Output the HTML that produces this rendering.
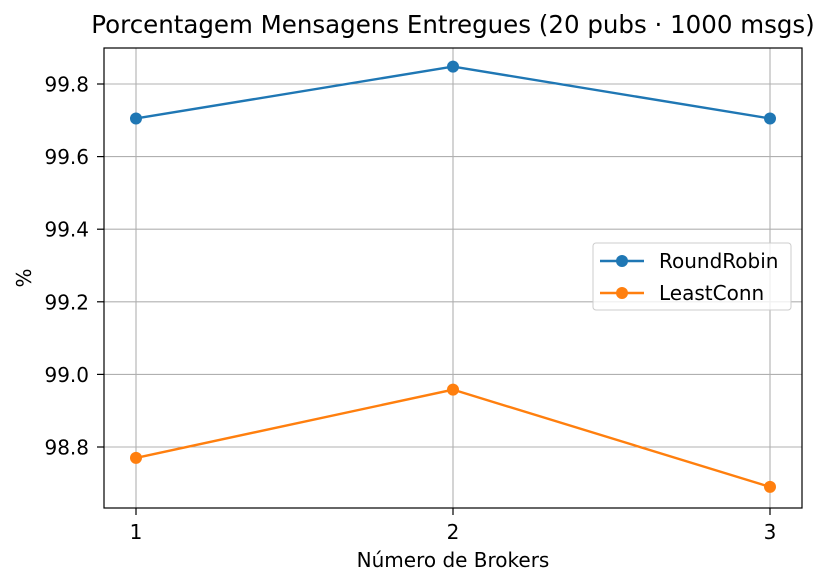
<!DOCTYPE html>
<html><head><meta charset="utf-8"><style>
html,body{margin:0;padding:0;background:#fff;}
svg{display:block;font-family:"DejaVu Sans","Liberation Sans",sans-serif;}
</style></head><body>
<svg id="chart" width="838" height="586" viewBox="0 0 838 586" xmlns="http://www.w3.org/2000/svg"></svg>
<script>
const categories = [1, 2, 3];
const roundRobin = [99.705, 99.848, 99.705];
const leastConn = [98.770, 98.958, 98.690];
const yTicks = [98.8, 99.0, 99.2, 99.4, 99.6, 99.8];
const yTickLabels = ["98.8", "99.0", "99.2", "99.4", "99.6", "99.8"];
const xTickLabels = ["1", "2", "3"];

const L = 104, R = 802, T = 48, B = 508;
function xs(v){ return 136 + (v - 1) * 317; }
function ys(v){ return 84 + (99.8 - v) * 363; }
const NS = "http://www.w3.org/2000/svg";
const svg = document.getElementById('chart');
function el(tag, attrs, parent){
  const e = document.createElementNS(NS, tag);
  for (const k in attrs) e.setAttribute(k, attrs[k]);
  (parent || svg).appendChild(e);
  return e;
}
const grid = el('g', {});


yTicks.forEach((v, i) => {
  const y = ys(v);
  const g = el('line', {x1: L, x2: R, y1: y, y2: y, stroke: '#b0b0b0', 'stroke-width': 1.1}, grid);
  
  
  const tk = el('line', {x1: L - 7, x2: L, y1: y, y2: y, stroke: '#000', 'stroke-width': 1.2});
  
  
  const t = el('text', {x: 89, y: y + 7.5, 'text-anchor': 'end', 'font-size': 20, fill: '#000'});
  t.textContent = yTickLabels[i];
  
  
});
categories.forEach((c, i) => {
  const x = xs(c);
  const g = el('line', {x1: x, x2: x, y1: T, y2: B, stroke: '#b0b0b0', 'stroke-width': 1.1}, grid);
  
  
  const tk = el('line', {x1: x, x2: x, y1: B, y2: B + 7, stroke: '#000', 'stroke-width': 1.2});
  
  
  const t = el('text', {x: x, y: 539, 'text-anchor': 'middle', 'font-size': 20, fill: '#000'});
  t.textContent = xTickLabels[i];
  
  
});
function series(vals, color, name){
  const g = el('g', {});
  
  
  const pts = vals.map((v, i) => xs(categories[i]) + ',' + ys(v)).join(' ');
  const pl = el('polyline', {points: pts, fill: 'none', stroke: color, 'stroke-width': 2.4}, g);
  
  
  vals.forEach((v, i) => {
    const c = el('circle', {cx: xs(categories[i]), cy: ys(v), r: 6, fill: color}, g);
    
    
  });
}
series(roundRobin, '#1f77b4', 'roundrobin-series');
series(leastConn, '#ff7f0e', 'leastconn-series');
const fr = el('rect', {x: L, y: T, width: R - L, height: B - T, fill: 'none', stroke: '#000', 'stroke-width': 1.2});


const title = el('text', {x: 453, y: 33, 'text-anchor': 'middle', 'font-size': 24.5, fill: '#000'});
title.textContent = 'Porcentagem Mensagens Entregues (20 pubs · 1000 msgs)';


const xt = el('text', {x: 453, y: 567, 'text-anchor': 'middle', 'font-size': 20, fill: '#000'});
xt.textContent = 'Número de Brokers';


const yt = el('text', {x: 0, y: 0, 'text-anchor': 'middle', 'font-size': 20, fill: '#000', transform: 'translate(31,278) rotate(-90)'});
yt.textContent = '%';


const lg = el('g', {});


el('rect', {x: 593, y: 243, width: 198, height: 67, rx: 3, fill: '#fff', 'fill-opacity': 0.8, stroke: '#ccc', 'stroke-width': 1}, lg);
[['RoundRobin', '#1f77b4', 261], ['LeastConn', '#ff7f0e', 293]].forEach(([n, c, y]) => {
  const e = el('g', {}, lg);
  
  
  el('line', {x1: 600, x2: 644, y1: y, y2: y, stroke: c, 'stroke-width': 2.4}, e);
  el('circle', {cx: 622, cy: y, r: 6, fill: c}, e);
  const t = el('text', {x: 659, y: y + 7, 'font-size': 20, fill: '#000'}, e);
  t.textContent = n;
});
</script>
</body></html>
